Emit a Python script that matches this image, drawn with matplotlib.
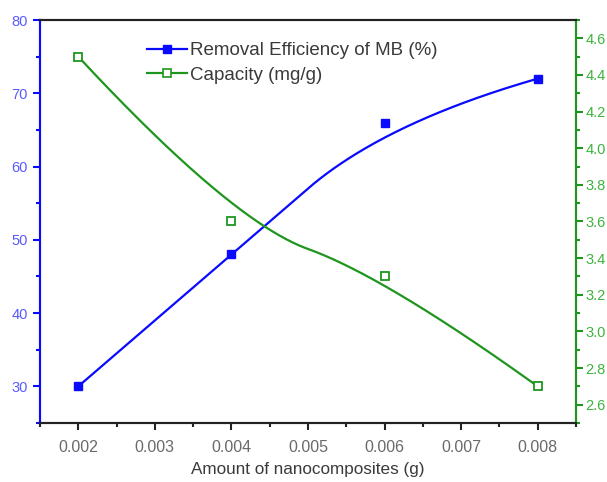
import numpy as np
import matplotlib
matplotlib.use("Agg")
import matplotlib.pyplot as plt
from matplotlib.lines import Line2D
from matplotlib.ticker import MultipleLocator

plt.rcParams['font.family'] = ['Liberation Sans', 'DejaVu Sans']

amount = [0.002, 0.004, 0.006, 0.008]
removal = [30, 48, 66, 72]
capacity = [4.5, 3.6, 3.3, 2.7]

BLUE = '#0a0aff'
GREEN = '#1e961e'
BLUE_TXT = '#5a5aff'
GREEN_TXT = '#3cb43c'


def bspline(xs, ys, k=2, n=300):
    # clamped B-spline (degree k) using the data points as control points
    P = np.column_stack([xs, ys]).astype(float)
    m = len(P)
    inner = np.linspace(0, 1, m - k + 1)[1:-1]
    knots = np.concatenate([np.zeros(k + 1), inner, np.ones(k + 1)])
    ts = np.linspace(0, 1, n)
    out = []
    for t in ts:
        if t >= 1:
            s = m - 1
        else:
            s = np.searchsorted(knots, t, side='right') - 1
        d = [P[j].copy() for j in range(s - k, s + 1)]
        for r in range(1, k + 1):
            for j in range(k, r - 1, -1):
                i = j + s - k
                den = knots[i + k + 1 - r] - knots[i]
                a = 0.0 if den == 0 else (t - knots[i]) / den
                d[j] = (1 - a) * d[j - 1] + a * d[j]
        out.append(d[k])
    out = np.array(out)
    return out[:, 0], out[:, 1]


fig = plt.figure(figsize=(6.07, 4.82), dpi=100)
ax = fig.add_axes([40 / 607, 59 / 482, 536 / 607, 403 / 482])
ax2 = ax.twinx()

cx, cy = bspline(amount, removal)
ax.plot(cx, cy, color=BLUE, lw=1.6, zorder=3)
ax.plot(amount, removal, ls='none', marker='s', ms=6, color=BLUE, zorder=4)

gx, gy = bspline(amount, capacity)
ax2.plot(gx, gy, color=GREEN, lw=1.6, zorder=3)
ax2.plot(amount, capacity, ls='none', marker='s', ms=6, mfc='white', mec=GREEN, mew=1.3, zorder=4)

ax.set_xlim(0.0015, 0.0085)
ax.set_ylim(25, 80)
ax2.set_ylim(2.5, 4.7)

ax.set_xticks([0.002, 0.003, 0.004, 0.005, 0.006, 0.007, 0.008])
ax.set_xticklabels(['0.002', '0.003', '0.004', '0.005', '0.006', '0.007', '0.008'])
ax.xaxis.set_minor_locator(MultipleLocator(0.0005))
ax.set_yticks([30, 40, 50, 60, 70, 80])
ax.yaxis.set_minor_locator(MultipleLocator(5))
ax2.set_yticks([2.6, 2.8, 3.0, 3.2, 3.4, 3.6, 3.8, 4.0, 4.2, 4.4, 4.6])
ax2.set_yticklabels(['2.6', '2.8', '3.0', '3.2', '3.4', '3.6', '3.8', '4.0', '4.2', '4.4', '4.6'])
ax2.yaxis.set_minor_locator(MultipleLocator(0.1))

ax.tick_params(axis='x', which='major', direction='out', length=5, width=1.5, color='#222222',
               labelsize=11.5, labelcolor='#6a6a6a', pad=7)
ax.tick_params(axis='x', which='minor', direction='out', length=3, width=1.5, color='#222222')
ax.tick_params(axis='y', which='major', direction='out', length=5, width=1.5, color=BLUE,
               labelsize=10.5, labelcolor=BLUE_TXT, pad=4)
ax.tick_params(axis='y', which='minor', direction='out', length=3, width=1.5, color=BLUE)
ax2.tick_params(axis='y', which='major', direction='out', length=5, width=1.5, color=GREEN,
                labelsize=10.5, labelcolor=GREEN_TXT, pad=2)
ax2.tick_params(axis='y', which='minor', direction='out', length=3, width=1.5, color=GREEN)

for a in (ax, ax2):
    a.spines['top'].set_color('#222222')
    a.spines['top'].set_linewidth(1.5)
    a.spines['bottom'].set_color('#222222')
    a.spines['bottom'].set_linewidth(1.5)
    a.spines['left'].set_color(BLUE)
    a.spines['left'].set_linewidth(1.5)
    a.spines['right'].set_color(GREEN)
    a.spines['right'].set_linewidth(1.5)

ax.set_xlabel('Amount of nanocomposites (g)', fontsize=12.3, color='#3a3a3a', labelpad=5)

handles = [
    Line2D([], [], color=BLUE, lw=1.6, marker='s', ms=5.5, mfc=BLUE, mec=BLUE),
    Line2D([], [], color=GREEN, lw=1.6, marker='s', ms=5.5, mfc='white', mec=GREEN, mew=1.2),
]
ax2.legend(handles, ['Removal Efficiency of MB (%)', 'Capacity (mg/g)'],
           loc='upper left', bbox_to_anchor=(0.2, 0.945), frameon=False,
           fontsize=13.5, labelcolor='#3a3a3a', handlelength=2.1, handletextpad=0.2,
           labelspacing=0.4, borderaxespad=0, borderpad=0)

fig.savefig('out.png', dpi=100)
